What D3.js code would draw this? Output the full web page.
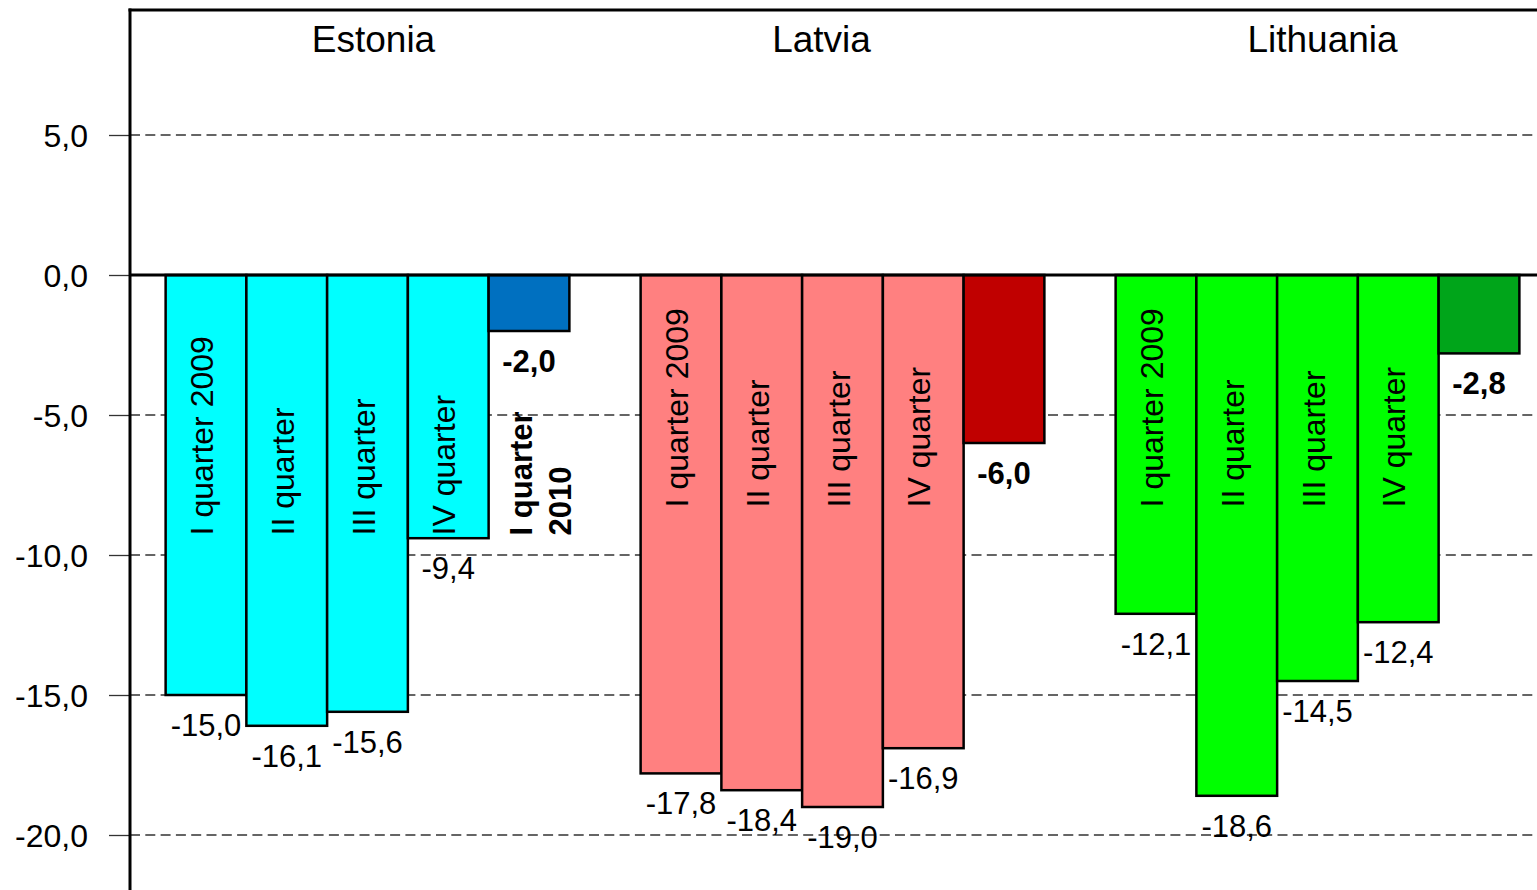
<!DOCTYPE html>
<html>
<head>
<meta charset="utf-8">
<script src="https://cdn.jsdelivr.net/npm/d3@7"></script>
<style>
  html, body { margin: 0; padding: 0; background: #fff; }
  svg { display: block; font-family: "Liberation Sans", Arial, sans-serif; }
</style>
</head>
<body>
<svg id="chart" width="1537" height="890"></svg>
<script>
// ---- data ----
const countries = ["Estonia", "Latvia", "Lithuania"];
const quarters = ["I quarter 2009", "II quarter", "III quarter", "IV quarter", "I quarter 2010"];
const estonia = [-15.0, -16.1, -15.6, -9.4, -2.0];
const latvia = [-17.8, -18.4, -19.0, -16.9, -6.0];
const lithuania = [-12.1, -18.6, -14.5, -12.4, -2.8];
const yTicks = [5, 0, -5, -10, -15, -20];
const colors2009 = ["#00FFFF", "#FF8080", "#00FF00"];
const colors2010 = ["#0070C0", "#C00000", "#00A51A"];

// ---- layout ----
const seriesByCountry = [estonia, latvia, lithuania];
const titleDx = [6, -21, 5];
const labelStartValue = [-9.3, -8.3, -8.3];
const fmt = v => v.toFixed(1).replace(".", ",");

const svg = d3.select("#chart");
svg.append("rect").attr("width", 1537).attr("height", 890).attr("fill", "#fff");

const x0 = d3.scaleBand().domain(countries).range([130, 1555])
  .paddingInner(0.15).paddingOuter(0.075);
const x1 = d3.scaleBand().domain(quarters).range([0, x0.bandwidth()]).padding(0);
const y = d3.scaleLinear().domain([5, -20]).range([135, 835]);

const data = [];
countries.forEach((c, ci) => {
  seriesByCountry[ci].forEach((v, qi) => {
    data.push({ c, ci, q: quarters[qi], qi, v, last: qi === quarters.length - 1 });
  });
});

// gridlines
svg.append("g").selectAll("line").data(yTicks.filter(t => t !== 0)).join("line")
  .attr("x1", 130).attr("x2", 1537)
  .attr("y1", d => y(d)).attr("y2", d => y(d))
  .attr("stroke", "#333").attr("stroke-width", 1.3)
  .attr("stroke-dasharray", "10,5.3");

// bars
svg.append("g").selectAll("rect").data(data).join("rect")
  .attr("x", d => x0(d.c) + x1(d.q))
  .attr("y", y(0))
  .attr("width", x1.bandwidth())
  .attr("height", d => y(d.v) - y(0))
  .attr("fill", d => d.last ? colors2010[d.ci] : colors2009[d.ci])
  .attr("stroke", "#000").attr("stroke-width", 2.5);

// zero line
svg.append("line").attr("x1", 130).attr("x2", 1537)
  .attr("y1", y(0)).attr("y2", y(0))
  .attr("stroke", "#000").attr("stroke-width", 3);

// axis
const axis = d3.axisLeft(y).tickValues(yTicks).tickSize(21).tickPadding(21).tickFormat(fmt);
const ag = svg.append("g").attr("transform", "translate(130,0)").call(axis);
ag.select(".domain").remove();
ag.selectAll(".tick line").attr("stroke", "#333").attr("stroke-width", 1.3);
ag.selectAll(".tick text").attr("font-size", 32).attr("fill", "#000")
  .attr("font-family", "Liberation Sans, Arial, sans-serif").attr("dy", "0.36em");
svg.append("line").attr("x1", 130).attr("x2", 130).attr("y1", 8.5).attr("y2", 890)
  .attr("stroke", "#000").attr("stroke-width", 3);
svg.append("line").attr("x1", 128.5).attr("x2", 1537).attr("y1", 10).attr("y2", 10)
  .attr("stroke", "#000").attr("stroke-width", 3);

// country titles
svg.append("g").selectAll("text").data(countries).join("text")
  .attr("x", (d, i) => x0(d) + x0.bandwidth() / 2 + titleDx[i])
  .attr("y", 52)
  .attr("text-anchor", "middle").attr("font-size", 37).attr("fill", "#000")
  .text(d => d);

// value labels
svg.append("g").selectAll("text").data(data).join("text")
  .attr("x", d => x0(d.c) + x1(d.q) + x1.bandwidth() / 2)
  .attr("y", d => y(d.v) + 41)
  .attr("text-anchor", "middle").attr("font-size", 31)
  .attr("font-weight", d => d.last ? "bold" : "normal")
  .attr("fill", "#000")
  .text(d => fmt(d.v));

// rotated quarter labels inside bars
const inBar = data.filter(d => !d.last);
svg.append("g").selectAll("text").data(inBar).join("text")
  .attr("transform", d => {
    const cx = x0(d.c) + x1(d.q) + x1.bandwidth() / 2 + 7;
    const cy = y(labelStartValue[d.ci]);
    return `translate(${cx},${cy}) rotate(-90)`;
  })
  .attr("text-anchor", "start").attr("font-size", 32).attr("fill", "#000")
  .text(d => d.q);

// Estonia 2010 bold two-line label
const e10 = data.find(d => d.ci === 0 && d.last);
const parts = e10.q.split(" ");
const lbl = svg.append("text")
  .attr("transform", `translate(${x0(e10.c) + x1(e10.q) + x1.bandwidth() / 2 + 3},${y(labelStartValue[0])}) rotate(-90)`)
  .attr("text-anchor", "start").attr("font-size", 31).attr("font-weight", "bold").attr("fill", "#000");
lbl.append("tspan").attr("x", 0).attr("dy", 0).text(parts.slice(0, 2).join(" "));
lbl.append("tspan").attr("x", 0).attr("dy", 39).text(parts[2]);
</script>
</body>
</html>
